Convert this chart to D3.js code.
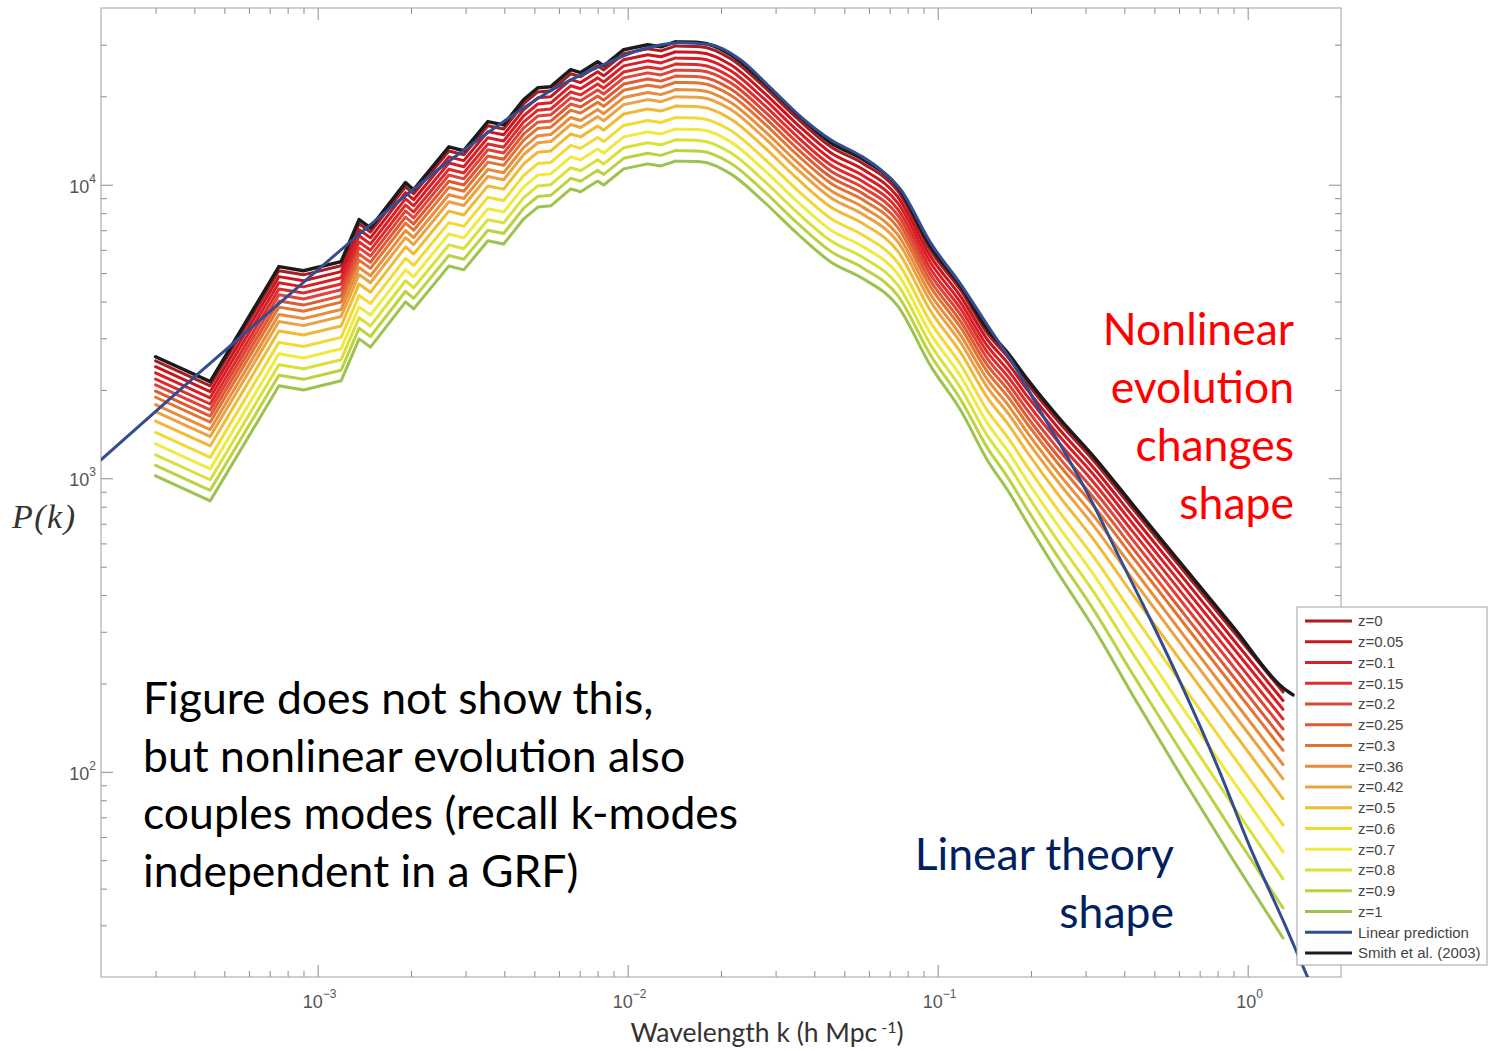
<!DOCTYPE html>
<meta charset="utf-8">
<style>
body { margin: 0; background: #fff; }
.ticks { color: #8c8c8c; }
.ticklabel { fill: #555; font-family: "Liberation Sans", Arial, sans-serif; font-size: 18px; }
.legend text { fill: #444; font-family: "Liberation Sans", Arial, sans-serif; font-size: 15px; }
.note { font-family: Lato, "Open Sans", sans-serif; font-size: 44.5px; }
</style>
<svg width="1489" height="1051"></svg>
<script src="https://cdn.jsdelivr.net/npm/d3@7"></script>
<script>

// wavenumbers shared by the simulation curves (h/Mpc)
var kGrid = [3.0e-4, 4.5e-4, 7.5e-4, 9.0e-4, 1.19e-3, 1.36e-3, 1.48e-3, 1.92e-3, 2.04e-3, 2.65e-3,
  2.96e-3, 3.54e-3, 3.98e-3, 4.62e-3, 5.13e-3, 5.65e-3, 6.55e-3, 7.05e-3, 8.0e-3, 8.37e-3,
  9.71e-3, 1.16e-2, 1.28e-2, 1.43e-2, 1.72e-2, 2.15e-2, 2.75e-2, 3.53e-2, 4.52e-2, 5.77e-2,
  7.43e-2, 9.49e-2, 0.119, 0.145, 0.168, 0.195, 0.244, 0.319, 0.429, 0.622, 0.901, 1.30];

// log10 P(k), one array per redshift
var pz000 = [3.400, 3.315, 3.707, 3.693, 3.724, 3.867, 3.839, 3.993, 3.969, 4.115, 4.102, 4.201, 4.190, 4.276, 4.316, 4.320, 4.378, 4.368, 4.405, 4.391, 4.446, 4.463, 4.456, 4.473, 4.470, 4.429, 4.334, 4.225, 4.129, 4.071, 3.979, 3.775, 3.638, 3.492, 3.414, 3.322, 3.196, 3.059, 2.892, 2.684, 2.477, 2.272];
var pz005 = [3.380, 3.295, 3.687, 3.673, 3.704, 3.847, 3.819, 3.973, 3.949, 4.095, 4.082, 4.181, 4.170, 4.256, 4.296, 4.300, 4.358, 4.348, 4.385, 4.371, 4.426, 4.443, 4.436, 4.453, 4.450, 4.409, 4.314, 4.205, 4.109, 4.051, 3.959, 3.755, 3.617, 3.471, 3.393, 3.300, 3.173, 3.035, 2.867, 2.658, 2.449, 2.243];
var pz010 = [3.359, 3.274, 3.666, 3.652, 3.683, 3.826, 3.798, 3.952, 3.928, 4.074, 4.061, 4.160, 4.149, 4.235, 4.275, 4.279, 4.337, 4.327, 4.364, 4.350, 4.405, 4.422, 4.415, 4.432, 4.429, 4.388, 4.293, 4.184, 4.088, 4.030, 3.938, 3.734, 3.596, 3.449, 3.370, 3.278, 3.150, 3.011, 2.841, 2.630, 2.420, 2.213];
var pz015 = [3.338, 3.253, 3.645, 3.631, 3.662, 3.805, 3.777, 3.931, 3.907, 4.053, 4.040, 4.139, 4.128, 4.214, 4.254, 4.258, 4.316, 4.306, 4.343, 4.329, 4.384, 4.401, 4.394, 4.411, 4.408, 4.367, 4.272, 4.163, 4.067, 4.009, 3.917, 3.713, 3.575, 3.428, 3.348, 3.255, 3.126, 2.985, 2.814, 2.601, 2.389, 2.180];
var pz020 = [3.318, 3.233, 3.625, 3.611, 3.642, 3.785, 3.757, 3.911, 3.887, 4.033, 4.020, 4.119, 4.108, 4.194, 4.234, 4.238, 4.296, 4.286, 4.323, 4.309, 4.364, 4.381, 4.374, 4.391, 4.388, 4.347, 4.252, 4.143, 4.047, 3.989, 3.897, 3.693, 3.554, 3.406, 3.325, 3.231, 3.101, 2.959, 2.786, 2.571, 2.357, 2.146];
var pz025 = [3.297, 3.212, 3.604, 3.590, 3.621, 3.764, 3.736, 3.890, 3.866, 4.012, 3.999, 4.098, 4.087, 4.173, 4.213, 4.217, 4.275, 4.265, 4.302, 4.288, 4.343, 4.360, 4.353, 4.370, 4.367, 4.326, 4.231, 4.122, 4.026, 3.968, 3.876, 3.672, 3.532, 3.384, 3.303, 3.207, 3.076, 2.933, 2.757, 2.539, 2.323, 2.110];
var pz030 = [3.276, 3.191, 3.583, 3.569, 3.600, 3.743, 3.715, 3.869, 3.845, 3.991, 3.978, 4.077, 4.066, 4.152, 4.192, 4.196, 4.254, 4.244, 4.281, 4.267, 4.322, 4.339, 4.332, 4.349, 4.346, 4.305, 4.210, 4.101, 4.005, 3.947, 3.855, 3.651, 3.511, 3.361, 3.279, 3.184, 3.051, 2.905, 2.727, 2.506, 2.288, 2.073];
var pz036 = [3.251, 3.166, 3.558, 3.544, 3.575, 3.718, 3.690, 3.844, 3.820, 3.966, 3.953, 4.052, 4.041, 4.127, 4.167, 4.171, 4.229, 4.219, 4.256, 4.242, 4.297, 4.314, 4.307, 4.324, 4.321, 4.280, 4.185, 4.076, 3.980, 3.922, 3.830, 3.626, 3.485, 3.335, 3.252, 3.155, 3.020, 2.871, 2.690, 2.465, 2.243, 2.025];
var pz042 = [3.227, 3.142, 3.534, 3.520, 3.551, 3.694, 3.666, 3.820, 3.796, 3.942, 3.929, 4.028, 4.017, 4.103, 4.143, 4.147, 4.205, 4.195, 4.232, 4.218, 4.273, 4.290, 4.283, 4.300, 4.297, 4.256, 4.161, 4.052, 3.956, 3.898, 3.806, 3.602, 3.460, 3.308, 3.224, 3.126, 2.989, 2.837, 2.651, 2.422, 2.197, 1.976];
var pz050 = [3.195, 3.110, 3.502, 3.488, 3.519, 3.662, 3.634, 3.788, 3.764, 3.910, 3.897, 3.996, 3.985, 4.071, 4.111, 4.115, 4.173, 4.163, 4.200, 4.186, 4.241, 4.258, 4.251, 4.268, 4.265, 4.224, 4.129, 4.020, 3.924, 3.866, 3.774, 3.570, 3.426, 3.273, 3.187, 3.087, 2.946, 2.790, 2.599, 2.364, 2.134, 1.908];
var pz060 = [3.156, 3.071, 3.463, 3.449, 3.480, 3.623, 3.595, 3.749, 3.725, 3.871, 3.858, 3.957, 3.946, 4.032, 4.072, 4.076, 4.134, 4.124, 4.161, 4.147, 4.202, 4.219, 4.212, 4.229, 4.226, 4.185, 4.090, 3.981, 3.885, 3.827, 3.735, 3.531, 3.385, 3.229, 3.140, 3.038, 2.893, 2.731, 2.533, 2.289, 2.051, 1.819];
var pz070 = [3.117, 3.032, 3.424, 3.410, 3.441, 3.584, 3.556, 3.710, 3.686, 3.832, 3.819, 3.918, 3.907, 3.993, 4.033, 4.037, 4.095, 4.085, 4.122, 4.108, 4.163, 4.180, 4.173, 4.190, 4.187, 4.146, 4.051, 3.942, 3.846, 3.788, 3.696, 3.492, 3.345, 3.186, 3.094, 2.989, 2.840, 2.671, 2.465, 2.212, 1.966, 1.727];
var pz080 = [3.080, 2.995, 3.387, 3.373, 3.404, 3.547, 3.519, 3.673, 3.649, 3.795, 3.782, 3.881, 3.870, 3.956, 3.996, 4.000, 4.058, 4.048, 4.085, 4.071, 4.126, 4.143, 4.136, 4.153, 4.150, 4.109, 4.014, 3.905, 3.809, 3.751, 3.659, 3.455, 3.305, 3.143, 3.050, 2.942, 2.787, 2.612, 2.398, 2.136, 1.881, 1.635];
var pz090 = [3.044, 2.959, 3.351, 3.337, 3.368, 3.511, 3.483, 3.637, 3.613, 3.759, 3.746, 3.845, 3.834, 3.920, 3.960, 3.964, 4.022, 4.012, 4.049, 4.035, 4.090, 4.107, 4.100, 4.117, 4.114, 4.073, 3.978, 3.869, 3.773, 3.715, 3.623, 3.419, 3.266, 3.102, 3.004, 2.893, 2.733, 2.551, 2.327, 2.055, 1.791, 1.536];
var pz100 = [3.008, 2.923, 3.315, 3.301, 3.332, 3.475, 3.447, 3.601, 3.577, 3.723, 3.710, 3.809, 3.798, 3.884, 3.924, 3.928, 3.986, 3.976, 4.013, 3.999, 4.054, 4.071, 4.064, 4.081, 4.078, 4.037, 3.942, 3.833, 3.737, 3.679, 3.587, 3.383, 3.229, 3.060, 2.960, 2.846, 2.679, 2.489, 2.255, 1.971, 1.697, 1.434];

var zLabels = ["z=0", "z=0.05", "z=0.1", "z=0.15", "z=0.2", "z=0.25", "z=0.3", "z=0.36",
  "z=0.42", "z=0.5", "z=0.6", "z=0.7", "z=0.8", "z=0.9", "z=1"];
var zColors = ["#a81c22", "#c8171f", "#d81f27", "#e02b2b", "#dd443a", "#df5a34", "#e27433",
  "#e78d3c", "#eba243", "#f0ba35", "#f2d934", "#f0e93e", "#d9e038", "#bcd240", "#9ec24f"];

// Smith et al. (2003) fit, z=0
var kSmith = kGrid.concat([1.40]);
var logSmith = [3.414, 3.329, 3.721, 3.707, 3.738, 3.881, 3.853, 4.007, 3.983, 4.129, 4.116, 4.215, 4.204, 4.290, 4.330, 4.334, 4.392, 4.382, 4.419, 4.405, 4.460, 4.477, 4.470, 4.487, 4.484, 4.443, 4.348, 4.239, 4.143, 4.085, 3.993, 3.789, 3.652, 3.506, 3.428, 3.336, 3.210, 3.073, 2.906, 2.698, 2.491, 2.286, 2.262];

// linear prediction
var kLin = [2.0e-4, 4.19e-4, 8.81e-4, 1.6e-3, 2.69e-3, 3.89e-3, 5.64e-3, 8.18e-3, 1.10e-2, 1.48e-2,
  1.85e-2, 2.31e-2, 2.89e-2, 3.61e-2, 4.52e-2, 5.64e-2, 6.55e-2, 7.60e-2, 9.49e-2, 0.119,
  0.148, 0.176, 0.215, 0.263, 0.312, 0.389, 0.486, 0.622, 0.800, 1.02, 1.31, 1.60];
var logLin = [3.063, 3.363, 3.659, 3.894, 4.085, 4.208, 4.320, 4.405, 4.460, 4.484, 4.477, 4.426, 4.330, 4.232, 4.153, 4.099, 4.051, 3.983, 3.802, 3.659, 3.506, 3.387, 3.227, 3.070, 2.927, 2.722, 2.518, 2.279, 2.017, 1.741, 1.486, 1.274];

var xMajor = [1e-3, 1e-2, 1e-1, 1];
var xMajorExp = ["\u22123", "\u22122", "\u22121", "0"];
var yMajor = [1e2, 1e3, 1e4];
var yMajorExp = ["2", "3", "4"];

var noteRed = ["Nonlinear", "evolution", "changes", "shape"];
var noteBlack = ["Figure does not show this,", "but nonlinear evolution also",
  "couples modes (recall k-modes", "independent in a GRF)"];
var noteBlue = ["Linear theory", "shape"];

var zSeries = [pz000, pz005, pz010, pz015, pz020, pz025, pz030, pz036, pz042, pz050,
  pz060, pz070, pz080, pz090, pz100];

var svg = d3.select("svg");
var plotL = 101, plotR = 1341, plotT = 8, plotB = 977;

var x = d3.scaleLog().domain([2e-4, 2]).range([plotL, plotR]);
var y = d3.scaleLog().domain([20, 4e4]).range([plotB, plotT]);

function minorVals(scale) {
  var d = scale.domain(), out = [];
  for (var e = -5; e <= 5; e++) {
    for (var m = 2; m <= 9; m++) {
      var v = m * Math.pow(10, e);
      if (v > d[0] * 1.0001 && v < d[1] * 0.9999) out.push(v);
    }
  }
  return out;
}

svg.append("defs").append("clipPath").attr("id", "plotclip")
  .append("rect").attr("x", plotL).attr("y", plotT)
  .attr("width", plotR - plotL).attr("height", plotB - plotT);

// ticks (inward, all four sides)
function ticks(axisFn, scale, vals, len, tx, ty) {
  svg.append("g").attr("class", "ticks")
    .attr("transform", "translate(" + tx + "," + ty + ")")
    .call(axisFn(scale).tickValues(vals).tickSize(-len).tickFormat(""))
    .call(function(g) { g.select(".domain").remove(); });
}
[[d3.axisBottom, 0, plotB], [d3.axisTop, 0, plotT]].forEach(function(a) {
  ticks(a[0], x, xMajor, 12, a[1], a[2]);
  ticks(a[0], x, minorVals(x), 6, a[1], a[2]);
});
[[d3.axisLeft, plotL, 0], [d3.axisRight, plotR, 0]].forEach(function(a) {
  ticks(a[0], y, yMajor, 12, a[1], a[2]);
  ticks(a[0], y, minorVals(y), 6, a[1], a[2]);
});

svg.append("rect")
  .attr("x", plotL).attr("y", plotT)
  .attr("width", plotR - plotL).attr("height", plotB - plotT)
  .attr("fill", "none").attr("stroke", "#a0a0a0").attr("stroke-width", 1);

// curves: binned low-k part joined straight, smooth above the turnover
var lineLin = d3.line()
  .x(function(d) { return x(d[0]); })
  .y(function(d) { return y(d[1]); });
var lineSmooth = d3.line()
  .x(function(d) { return x(d[0]); })
  .y(function(d) { return y(d[1]); })
  .curve(d3.curveMonotoneX);
var splitAt = 23;

function pairs(ks, logs) {
  return ks.map(function(k, i) { return [k, Math.pow(10, logs[i])]; });
}
function simPath(ks, logs) {
  var p = pairs(ks, logs);
  return lineLin(p.slice(0, splitAt + 1)) + lineSmooth(p.slice(splitAt));
}

var plot = svg.append("g").attr("clip-path", "url(#plotclip)")
  .attr("fill", "none").attr("stroke-linecap", "round").attr("stroke-linejoin", "round");

plot.selectAll("path.z")
  .data(zSeries)
  .enter().append("path")
    .attr("class", "z")
    .attr("d", function(d) { return simPath(kGrid, d); })
    .attr("stroke", function(d, i) { return zColors[i]; })
    .attr("stroke-width", 3);

plot.append("path")
  .attr("d", simPath(kSmith, logSmith))
  .attr("stroke", "#1b1b1b").attr("stroke-width", 3.5);

plot.append("path")
  .attr("d", lineSmooth(pairs(kLin, logLin)))
  .attr("stroke", "#344d8f").attr("stroke-width", 3);

// tick labels
xMajor.forEach(function(v, i) {
  var t = svg.append("text").attr("class", "ticklabel")
    .attr("x", x(v) + 2).attr("y", 1008).attr("text-anchor", "middle");
  t.append("tspan").text("10");
  t.append("tspan").attr("dy", -10).attr("font-size", 12).text(xMajorExp[i]);
});
yMajor.forEach(function(v, i) {
  var t = svg.append("text").attr("class", "ticklabel")
    .attr("x", 96).attr("y", y(v) + 8).attr("text-anchor", "end");
  t.append("tspan").text("10");
  t.append("tspan").attr("dy", -10).attr("font-size", 12).text(yMajorExp[i]);
});

// axis titles
var xt = svg.append("text")
  .attr("x", 767).attr("y", 1042).attr("text-anchor", "middle")
  .attr("fill", "#333").style("font-family", "Lato, 'Open Sans', sans-serif").style("font-size", "26.5px");
xt.append("tspan").text("Wavelength k (h Mpc");
xt.append("tspan").attr("dy", -9).attr("font-size", 16).text(" -1");
xt.append("tspan").attr("dy", 9).text(")");

svg.append("text")
  .attr("x", 12).attr("y", 528)
  .attr("fill", "#333")
  .style("font-family", "'Liberation Serif', 'DejaVu Serif', serif")
  .style("font-style", "italic").style("font-size", "34px")
  .style("letter-spacing", "1.5px")
  .text("P(k)");

// legend
var legItems = zLabels.map(function(l, i) { return { label: l, color: zColors[i] }; })
  .concat([{ label: "Linear prediction", color: "#344d8f" },
           { label: "Smith et al. (2003)", color: "#1b1b1b" }]);
var leg = svg.append("g").attr("class", "legend");
leg.append("rect")
  .attr("x", 1297).attr("y", 607).attr("width", 190).attr("height", 358)
  .attr("fill", "#fff").attr("stroke", "#a0a0a0");
var row = leg.selectAll("g.row").data(legItems).enter().append("g")
  .attr("transform", function(d, i) { return "translate(0," + (621 + i * 20.75) + ")"; });
row.append("line").attr("x1", 1305).attr("x2", 1352)
  .attr("stroke", function(d) { return d.color; }).attr("stroke-width", 3);
row.append("text").attr("x", 1358).attr("dy", "0.35em").text(function(d) { return d.label; });

// annotations
svg.append("g").selectAll("text").data(noteRed).enter().append("text")
  .attr("class", "note").attr("fill", "#ff0000").attr("text-anchor", "end")
  .attr("x", 1294).attr("y", function(d, i) { return 345 + i * 58; })
  .text(function(d) { return d; });

svg.append("g").selectAll("text").data(noteBlack).enter().append("text")
  .attr("class", "note").attr("fill", "#000").attr("x", 143)
  .attr("y", function(d, i) { return 714 + i * 57.5; })
  .text(function(d) { return d; });

svg.append("g").selectAll("text").data(noteBlue).enter().append("text")
  .attr("class", "note").attr("fill", "#002060").attr("text-anchor", "end")
  .attr("x", 1174).attr("y", function(d, i) { return 870 + i * 58; })
  .text(function(d) { return d; });

</script>
